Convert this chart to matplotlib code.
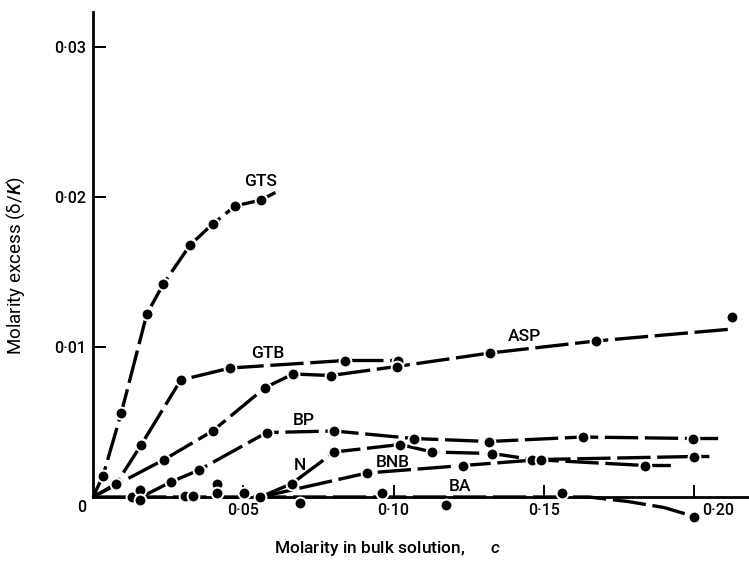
import numpy as np
import matplotlib.pyplot as plt
import matplotlib.transforms as mtransforms

plt.rcParams['font.family'] = ['Roboto', 'DejaVu Sans']
plt.rcParams['font.weight'] = 'medium'
plt.rcParams['mathtext.fontset'] = 'custom'
plt.rcParams['mathtext.it'] = 'Roboto:italic:medium'

# Values: molarity in bulk solution (c) vs molarity excess (delta/K)
gts_x = [0.0033, 0.0094, 0.0179, 0.0234, 0.0323, 0.0398, 0.0473, 0.0559]
gts_y = [0.0014, 0.0056, 0.0122, 0.0142, 0.0168, 0.0182, 0.0194, 0.0198]
gts_ends = [(0.0, 0.0), (0.0607, 0.0203)]

gtb_x = [0.0078, 0.0161, 0.0292, 0.0457, 0.0838, 0.1015]
gtb_y = [0.0009, 0.0035, 0.0078, 0.0086, 0.0091, 0.0091]
gtb_ends = [(0.0, 0.0), (0.1015, 0.0091)]

asp_x = [0.0237, 0.0398, 0.0573, 0.0666, 0.0792, 0.1010, 0.1321, 0.1673, 0.2126]
asp_y = [0.0025, 0.0044, 0.0073, 0.0082, 0.0081, 0.0087, 0.0096, 0.0104, 0.0120]
asp_ends = [(0.0, 0.0), (0.2128, 0.0112)]

bp_x = [0.0259, 0.0353, 0.0578, 0.0803, 0.1067, 0.1318, 0.1629, 0.1996]
bp_y = [0.0010, 0.0018, 0.0043, 0.0044, 0.0039, 0.0037, 0.0040, 0.0039]
bp_ends = [(0.016, 0.0), (0.2096, 0.0039)]

n_x = [0.0662, 0.0803, 0.1022, 0.1129, 0.1329, 0.1462, 0.1838]
n_y = [0.0009, 0.0030, 0.0035, 0.0030, 0.0029, 0.0025, 0.0021]
n_ends = [(0.0557, 0.0), (0.1923, 0.0021)]

bnb_x = [0.0912, 0.1232, 0.1490, 0.1999]
bnb_y = [0.0016, 0.0021, 0.0025, 0.0027]
bnb_ends = [(0.0557, 0.0), (0.2051, 0.0027)]

ba_x = [0.0129, 0.0157, 0.0157, 0.0307, 0.0334, 0.0412, 0.0412, 0.0503,
        0.0557, 0.0690, 0.0962, 0.1173, 0.1562, 0.2001]
ba_y = [0.0, 0.0005, -0.0002, 0.0001, 0.0001, 0.0009, 0.0003, 0.0003,
        0.0, -0.0004, 0.0003, -0.0005, 0.0003, -0.0013]
ba_line_x = [0.0, 0.165, 0.178, 0.190, 0.2001]
ba_line_y = [0.0, 0.0, -0.0003, -0.0007, -0.0013]

# curve labels
label_text = ['GTS', 'GTB', 'ASP', 'BP', 'N', 'BNB', 'BA']
label_x = [0.0557, 0.0583, 0.1437, 0.070, 0.0687, 0.0997, 0.122]
label_y = [0.0210, 0.0096, 0.0107, 0.0051, 0.0021, 0.0023, 0.0007]

x_ticks = [0.05, 0.10, 0.15, 0.20]
x_ticklabels = ['0·05', '0·10', '0·15', '0·20']
y_ticks = [0.01, 0.02, 0.03]
y_ticklabels = ['0·01', '0·02', '0·03']

fig = plt.figure(figsize=(7.49, 5.62), dpi=100)
ax = fig.add_axes([0.1242, 0.0756, 0.8758, 0.903])

line_kw = dict(color='black', lw=2.4, dashes=(10, 2.0), solid_capstyle='butt',
               clip_on=False, zorder=2)
dot_kw = dict(ls='none', marker='o', ms=8.5, mfc='black', mec='white', mew=1.4,
              clip_on=False, zorder=3)

for xs, ys, ends in [(gts_x, gts_y, gts_ends), (gtb_x, gtb_y, gtb_ends),
                     (bp_x, bp_y, bp_ends), (n_x, n_y, n_ends),
                     (bnb_x, bnb_y, bnb_ends)]:
    lx = [ends[0][0]] + xs + [ends[1][0]]
    ly = [ends[0][1]] + ys + [ends[1][1]]
    ax.plot(lx, ly, **line_kw)
    ax.plot(xs, ys, **dot_kw)

# ASP line runs just under its last point
ax.plot([asp_ends[0][0]] + asp_x[:-1] + [asp_ends[1][0]],
        [asp_ends[0][1]] + asp_y[:-1] + [asp_ends[1][1]], **line_kw)
ax.plot(asp_x, asp_y, **dot_kw)

ax.plot(ba_line_x, ba_line_y, **line_kw)
ax.plot(ba_x, ba_y, **dot_kw)

for t, x, y in zip(label_text, label_x, label_y):
    ax.text(x, y, t, ha='center', va='center', fontsize=12.5)

ax.set_xlim(0, 0.2183)
ax.set_ylim(-0.0015, 0.03233)
ax.spines['top'].set_visible(False)
ax.spines['right'].set_visible(False)
ax.spines['bottom'].set_position(('data', 0))
ax.spines['bottom'].set_linewidth(2)
ax.spines['left'].set_linewidth(2)
ax.spines['left'].set_bounds(0, 0.03233)

ax.set_xticks(x_ticks)
ax.set_xticklabels(x_ticklabels)
ax.set_yticks(y_ticks)
ax.set_yticklabels(y_ticklabels)
ax.tick_params(direction='in', length=9, width=1.4, labelsize=11.5)
ax.tick_params(axis='x', pad=4)
ax.tick_params(axis='y', pad=5)

# last x label sits a bit to the right in the original
lbl = ax.get_xticklabels()[-1]
lbl.set_transform(lbl.get_transform() +
                  mtransforms.ScaledTranslation(0.24, 0, fig.dpi_scale_trans))

ax.text(-0.0037, -0.0007, '0', ha='center', va='center', fontsize=11.5)

ax.set_ylabel('Molarity excess (δ/$K$)', fontsize=13.5)
ax.yaxis.set_label_coords(-0.1, 0.5)
fig.text(0.517, 0.024, 'Molarity in bulk solution,      $c$', ha='center',
         va='center', fontsize=12.5)

plt.savefig('out.png', dpi=100)
